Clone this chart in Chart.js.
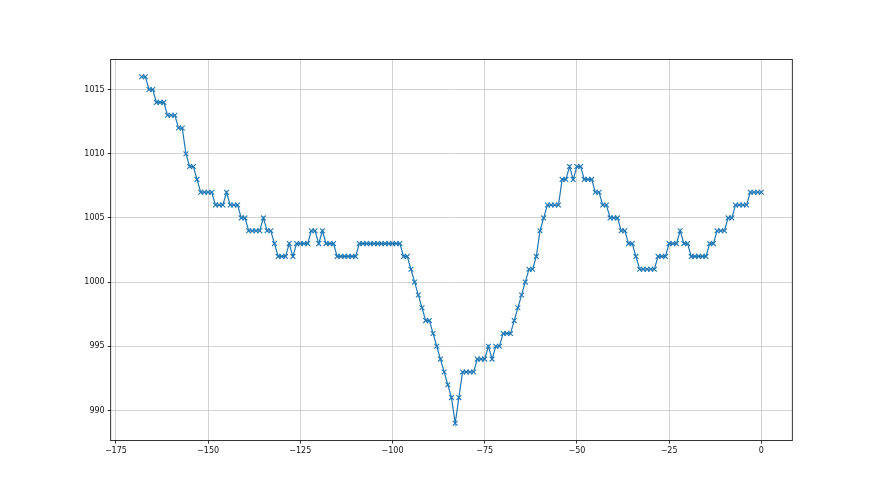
<!DOCTYPE html>
<html>
<head>
<meta charset="utf-8">
<script src="https://cdn.jsdelivr.net/npm/chart.js@4.4.1/dist/chart.umd.min.js"></script>
<style>
html,body{margin:0;padding:0;background:#fff;}
#wrap{width:880px;height:495px;}
</style>
</head>
<body>
<div id="wrap"><canvas id="c" width="880" height="495"></canvas></div>
<script>
const hours = [
-168,-167,-166,-165,-164,-163,-162,-161,-160,-159,
-158,-157,-156,-155,-154,-153,-152,-151,-150,-149,
-148,-147,-146,-145,-144,-143,-142,-141,-140,-139,
-138,-137,-136,-135,-134,-133,-132,-131,-130,-129,
-128,-127,-126,-125,-124,-123,-122,-121,-120,-119,
-118,-117,-116,-115,-114,-113,-112,-111,-110,-109,
-108,-107,-106,-105,-104,-103,-102,-101,-100,-99,
-98,-97,-96,-95,-94,-93,-92,-91,-90,-89,
-88,-87,-86,-85,-84,-83,-82,-81,-80,-79,
-78,-77,-76,-75,-74,-73,-72,-71,-70,-69,
-68,-67,-66,-65,-64,-63,-62,-61,-60,-59,
-58,-57,-56,-55,-54,-53,-52,-51,-50,-49,
-48,-47,-46,-45,-44,-43,-42,-41,-40,-39,
-38,-37,-36,-35,-34,-33,-32,-31,-30,-29,
-28,-27,-26,-25,-24,-23,-22,-21,-20,-19,
-18,-17,-16,-15,-14,-13,-12,-11,-10,-9,
-8,-7,-6,-5,-4,-3,-2,-1,0
];
const pressure = [
1016,1016,1015,1015,1014,1014,1014,1013,1013,1013,
1012,1012,1010,1009,1009,1008,1007,1007,1007,1007,
1006,1006,1006,1007,1006,1006,1006,1005,1005,1004,
1004,1004,1004,1005,1004,1004,1003,1002,1002,1002,
1003,1002,1003,1003,1003,1003,1004,1004,1003,1004,
1003,1003,1003,1002,1002,1002,1002,1002,1002,1003,
1003,1003,1003,1003,1003,1003,1003,1003,1003,1003,
1003,1002,1002,1001,1000,999,998,997,997,996,
995,994,993,992,991,989,991,993,993,993,
993,994,994,994,995,994,995,995,996,996,
996,997,998,999,1000,1001,1001,1002,1004,1005,
1006,1006,1006,1006,1008,1008,1009,1008,1009,1009,
1008,1008,1008,1007,1007,1006,1006,1005,1005,1005,
1004,1004,1003,1003,1002,1001,1001,1001,1001,1001,
1002,1002,1002,1003,1003,1003,1004,1003,1003,1002,
1002,1002,1002,1002,1003,1003,1004,1004,1004,1005,
1005,1006,1006,1006,1006,1007,1007,1007,1007
];
const xTicks = [-175,-150,-125,-100,-75,-50,-25,0];
const yTicks = [990,995,1000,1005,1010,1015];

const points = hours.map((h,i)=>({x:h,y:pressure[i]}));
const FONT = {family:'"DejaVu Sans", sans-serif', size:8};
const minus = v => String(v).replace('-', '\u2212');

const framePlugin = {
  id:'frame',
  afterDraw(chart){
    const a = chart.chartArea, ctx = chart.ctx;
    ctx.save();
    ctx.strokeStyle = '#000';
    ctx.lineWidth = 0.8;
    ctx.strokeRect(a.left, a.top, a.right - a.left, a.bottom - a.top);
    ctx.restore();
  }
};

new Chart(document.getElementById('c'), {
  type:'scatter',
  data:{datasets:[{
    data:points,
    showLine:true,
    borderColor:'#1f77b4',
    backgroundColor:'#1f77b4',
    borderWidth:1.2,
    pointStyle:'crossRot',
    pointRadius:3.4,
    pointBorderWidth:1.1,
    pointBorderColor:'#1f77b4',
    pointHoverRadius:3.4,
    tension:0
  }]},
  options:{
    responsive:false,
    animation:false,
    events:[],
    layout:{padding:{left:0,right:87.7,top:59.4,bottom:0}},
    plugins:{legend:{display:false},tooltip:{enabled:false}},
    scales:{
      x:{
        type:'linear',
        min:-176.4, max:8.4,
        afterBuildTicks(s){ s.ticks = xTicks.map(v=>({value:v})); },
        afterFit(s){ s.height = 54.4; },
        border:{display:false},
        grid:{color:'#c8c8c8', lineWidth:0.8, drawTicks:true, tickLength:3, tickColor:'#000', tickWidth:0.8},
        ticks:{font:FONT, color:'#111', padding:3, maxRotation:0, autoSkip:false, callback:v=>minus(v)}
      },
      y:{
        type:'linear',
        min:987.65, max:1017.35,
        afterBuildTicks(s){ s.ticks = yTicks.map(v=>({value:v})); },
        afterFit(s){ s.width = 110.7; },
        border:{display:false},
        grid:{color:'#c8c8c8', lineWidth:0.8, drawTicks:true, tickLength:3, tickColor:'#000', tickWidth:0.8},
        ticks:{font:FONT, color:'#111', padding:3, autoSkip:false, callback:v=>minus(v)}
      }
    }
  },
  plugins:[framePlugin]
});
</script>
</body>
</html>
